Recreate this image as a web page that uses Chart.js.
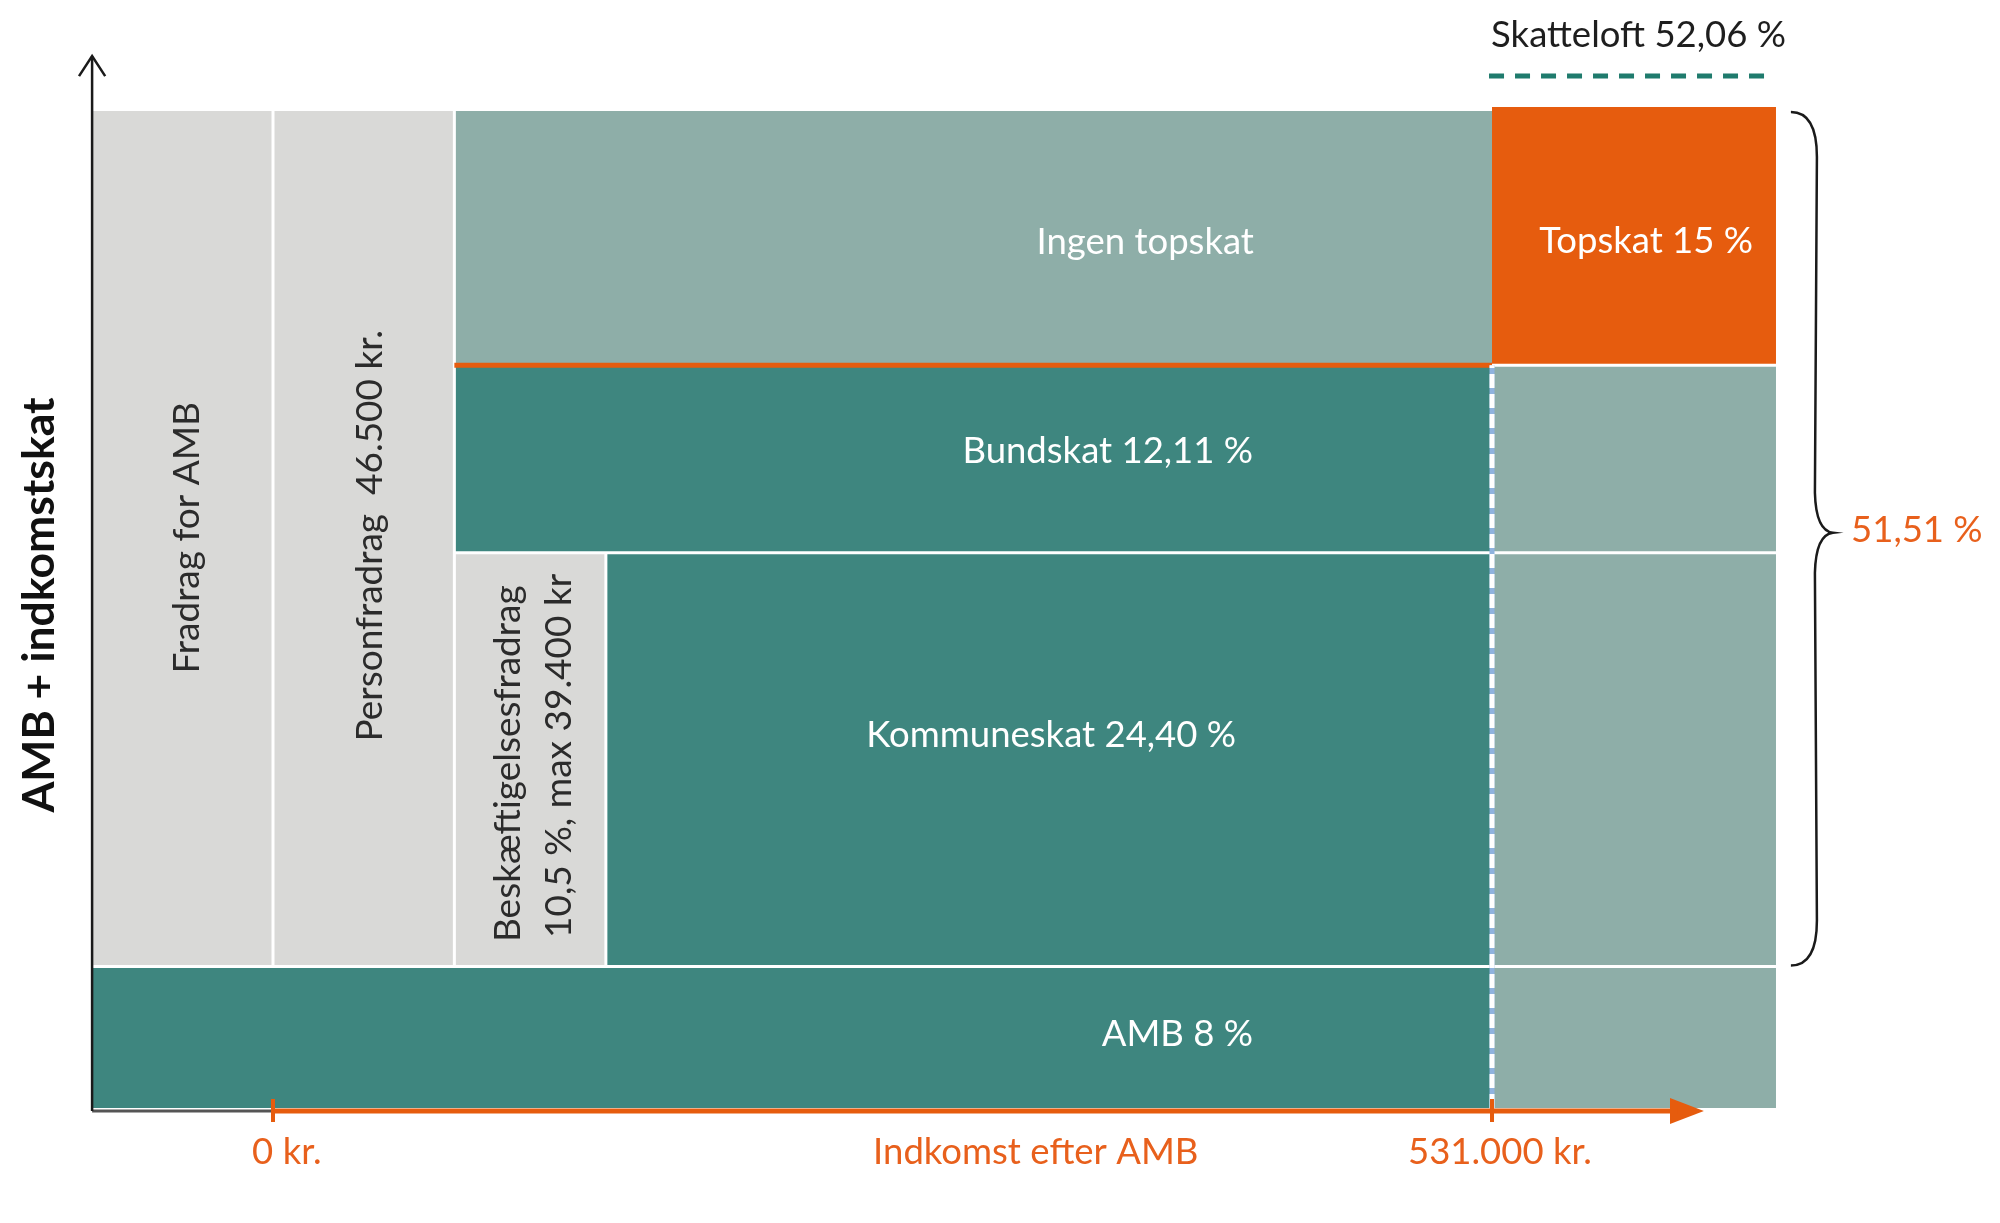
<!DOCTYPE html>
<html lang="da">
<head>
<meta charset="utf-8">
<title>AMB + indkomstskat</title>
<script src="https://cdn.jsdelivr.net/npm/chart.js@4.4.1/dist/chart.umd.min.js"></script>
<style>
	html, body { margin: 0; padding: 0; background: #fff; }
	#wrap { position: relative; width: 2000px; height: 1223px; }
</style>
</head>
<body>
<div id="wrap"><canvas id="taxChart"></canvas></div>
<script>
// x: indkomst efter AMB i 1.000 kr. (skematisk), y: skematisk skattehøjde (0 = bund, 100 = top)
const cellNames = ['Fradrag for AMB', 'Personfradrag', 'Beskæftigelsesfradrag', 'Ingen topskat', 'Topskat', 'Bundskat', 'Bundskat over grænsen', 'Kommuneskat', 'Kommuneskat over grænsen', 'AMB', 'AMB over grænsen'];
const cellKinds = ['fradrag', 'fradrag', 'fradrag', 'over', 'topskat', 'skat', 'over', 'skat', 'over', 'skat', 'over'];
const cellIncomeFrom = [-78.4, 0, 79, 79, 531, 79, 531, 145, 531, -78.4, 531];
const cellIncomeTo = [0, 79, 145, 531, 654.7, 531, 654.7, 531, 654.7, 531, 654.7];
const cellLevelFrom = [14.2, 14.2, 14.2, 74.5, 74.5, 55.7, 55.7, 14.2, 14.2, 0, 0];
const cellLevelTo = [100, 100, 55.7, 100, 100.4, 74.5, 74.5, 55.7, 55.7, 14.2, 14.2];

// hvide skillelinjer
const splitLevels = [14.2, 55.7, 74.5];
const splitFrom = [-78.4, 79, 531];
const splitTo = [654.7, 654.7, 654.7];
const dividerIncome = [0, 79, 145];
const dividerFrom = [14.2, 14.2, 14.2];
const dividerTo = [100, 100, 55.7];

// topskattegrænse og skatteloft
const topskatLimit = 531;
const topskatLevel = 74.5;
const skatteloftLevel = 103.5;
const skatteloftFrom = 529.7;
const skatteloftTo = 653.8;

// akser
const axisIncome = -78.8;
const axisLevel = -0.3;
const axisTop = 105.5;
const axisEnd = 612;
const incomeTicks = [0, 531];
const incomeTickLabels = ['0 kr.', '531.000 kr.'];

// klamme om 51,51 %
const braceIncome = 661.2;
const braceFrom = 14.3;
const braceTo = 99.9;

// tekster
const labelTexts = ['Ingen topskat', 'Topskat 15 %', 'Bundskat 12,11 %', 'Kommuneskat 24,40 %', 'AMB 8 %', 'Fradrag for AMB', 'Personfradrag  46.500 kr.', 'Beskæftigelsesfradrag', '10,5 %, max 39.400 kr', 'Skatteloft 52,06 %', '51,51 %', incomeTickLabels[0], 'Indkomst efter AMB', incomeTickLabels[1], 'AMB + indkomstskat'];
const labelIncome = [427.3, 644.7, 426.9, 419.5, 426.9, -32.2, 47.5, 107.6, 129.8, 530.6, 687.4, -9.1, 261.4, 494.4, -95.4];
const labelLevel = [85.66, 85.76, 64.69, 36.21, 6.22, 57.2, 57.4, 16.65, 17.05, 106.42, 56.77, -5.62, -5.62, -5.62, 50.45];
const labelAlign = ['right', 'right', 'right', 'right', 'right', 'center', 'center', 'left', 'left', 'left', 'left', 'left', 'left', 'left', 'center'];
const labelKinds = ['cell', 'cell', 'cell', 'cell', 'cell', 'vertical', 'vertical', 'vertical', 'vertical', 'note', 'orange', 'orange', 'orange', 'orange', 'title'];

const palette = {
	fradrag: '#d9d9d7',
	skat: '#3e867f',
	over: '#8eaea8',
	topskat: '#e65c0e'
};
const orange = '#e65c0e';
const fontFamily = 'Lato, "Open Sans", sans-serif';
const textStyles = {
	cell: { font: `36.5px ${fontFamily}`, color: '#ffffff', rotate: false },
	vertical: { font: `37px ${fontFamily}`, color: '#2b2b2b', rotate: true },
	note: { font: `36.5px ${fontFamily}`, color: '#1e1e1e', rotate: false },
	orange: { font: `36.5px ${fontFamily}`, color: '#e8601c', rotate: false },
	title: { font: `bold 44.5px ${fontFamily}`, color: '#111111', rotate: true }
};

function lineSet(label, points, color, width, order, extra) {
	return Object.assign({
		label: label,
		data: points,
		showLine: true,
		fill: false,
		borderColor: color,
		borderWidth: width,
		pointRadius: 0,
		tension: 0,
		order: order
	}, extra || {});
}

const datasets = [];

cellNames.forEach((name, i) => {
	datasets.push(lineSet(name, [
		{ x: cellIncomeFrom[i], y: cellLevelTo[i] },
		{ x: cellIncomeTo[i], y: cellLevelTo[i] }
	], 'rgba(0,0,0,0)', 0, 30, {
		fill: { value: cellLevelFrom[i] },
		backgroundColor: palette[cellKinds[i]]
	}));
});

splitLevels.forEach((level, i) => {
	datasets.push(lineSet('skillelinje', [
		{ x: splitFrom[i], y: level },
		{ x: splitTo[i], y: level }
	], '#ffffff', 3, 20));
});

dividerIncome.forEach((income, i) => {
	datasets.push(lineSet('skillelinje', [
		{ x: income, y: dividerFrom[i] },
		{ x: income, y: dividerTo[i] }
	], '#ffffff', 3, 20));
});

// orange streg under "Ingen topskat"
datasets.push(lineSet('topskattegrænse', [
	{ x: dividerIncome[1], y: topskatLevel },
	{ x: topskatLimit, y: topskatLevel }
], orange, 5, 15));

// stiplet lodret linje ved 531.000 kr.
datasets.push(lineSet('grænse', [
	{ x: topskatLimit, y: 0 },
	{ x: topskatLimit, y: topskatLevel }
], '#8fb3de', 5, 12));
datasets.push(lineSet('grænse stiplet', [
	{ x: topskatLimit, y: 0 },
	{ x: topskatLimit, y: topskatLevel }
], '#ffffff', 5, 11, { borderDash: [14, 6] }));

// skatteloft
datasets.push(lineSet('Skatteloft', [
	{ x: skatteloftFrom, y: skatteloftLevel },
	{ x: skatteloftTo, y: skatteloftLevel }
], '#1f7b6d', 5, 10, { borderDash: [15, 11] }));

// y-akse med pil
datasets.push(lineSet('y-akse', [
	{ x: axisIncome, y: axisLevel },
	{ x: axisIncome, y: axisTop }
], '#1a1a1a', 2.5, 5));
datasets.push(lineSet('y-pil', [
	{ x: axisIncome - 5.7, y: axisTop - 2 },
	{ x: axisIncome, y: axisTop },
	{ x: axisIncome + 5.7, y: axisTop - 2 }
], '#1a1a1a', 2.5, 5));

// x-akse
datasets.push(lineSet('x-akse', [
	{ x: axisIncome, y: axisLevel },
	{ x: incomeTicks[0], y: axisLevel }
], '#555555', 3, 5));
datasets.push(lineSet('Indkomst efter AMB', [
	{ x: incomeTicks[0], y: axisLevel },
	{ x: axisEnd, y: axisLevel }
], orange, 5, 5));
[1.3, -1.3].forEach((half) => {
	datasets.push(lineSet('x-pil', [
		{ x: 608.5, y: axisLevel + half },
		{ x: 623.3, y: axisLevel }
	], 'rgba(0,0,0,0)', 0, 5, {
		fill: { value: axisLevel },
		backgroundColor: orange
	}));
});
incomeTicks.forEach((tick) => {
	datasets.push(lineSet('tick', [
		{ x: tick, y: axisLevel + 1.2 },
		{ x: tick, y: axisLevel - 1.1 }
	], orange, 4, 4));
});

const diagramText = {
	id: 'diagramText',
	afterDatasetsDraw(chart) {
		const { ctx, scales: { x, y } } = chart;

		labelTexts.forEach((text, i) => {
			const style = textStyles[labelKinds[i]];
			ctx.save();
			ctx.translate(x.getPixelForValue(labelIncome[i]), y.getPixelForValue(labelLevel[i]));
			if (style.rotate) {
				ctx.rotate(-Math.PI / 2);
			}
			ctx.font = style.font;
			ctx.fillStyle = style.color;
			ctx.textAlign = labelAlign[i];
			ctx.textBaseline = 'alphabetic';
			ctx.fillText(text, 0, 0);
			ctx.restore();
		});

		// klamme
		const bx = x.getPixelForValue(braceIncome);
		const top = y.getPixelForValue(braceTo);
		const bottom = y.getPixelForValue(braceFrom);
		const mid = (top + bottom) / 2 - 6;
		const body = bx + 26;
		ctx.save();
		ctx.strokeStyle = '#1a1a1a';
		ctx.lineWidth = 2.5;
		ctx.beginPath();
		ctx.moveTo(bx, top);
		ctx.quadraticCurveTo(body, top, body, top + 45);
		ctx.lineTo(body - 2, mid - 40);
		ctx.quadraticCurveTo(body - 1, mid - 2, bx + 42, mid);
		ctx.quadraticCurveTo(body - 1, mid + 2, body - 2, mid + 40);
		ctx.lineTo(body, bottom - 45);
		ctx.quadraticCurveTo(body, bottom, bx, bottom);
		ctx.stroke();
		ctx.restore();
	}
};

new Chart(document.getElementById('taxChart'), {
	type: 'scatter',
	data: { datasets: datasets },
	options: {
		responsive: true,
		maintainAspectRatio: false,
		animation: false,
		layout: { padding: 0 },
		plugins: {
			legend: { display: false },
			tooltip: { enabled: false }
		},
		scales: {
			x: { type: 'linear', min: -118.92, max: 752.28, display: false },
			y: { type: 'linear', min: -11.53, max: 111.13, display: false }
		}
	},
	plugins: [diagramText]
});
</script>
</body>
</html>
